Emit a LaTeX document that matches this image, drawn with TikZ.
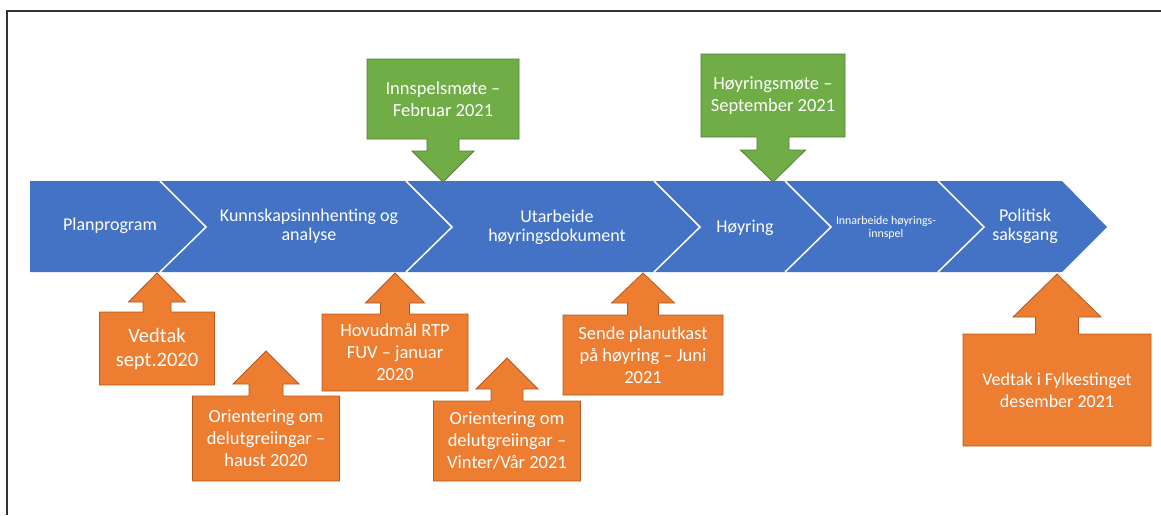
\documentclass[tikz,border=0pt]{standalone}
\usepackage{fontspec}
\setmainfont{Carlito}
\definecolor{bandblue}{HTML}{4472C4}
\definecolor{noteorange}{HTML}{ED7D31}
\definecolor{noteorangeline}{HTML}{B05A20}
\definecolor{notegreen}{HTML}{70AD47}
\definecolor{notegreenline}{HTML}{507E32}
\tikzset{
	bandtext/.style={text=white, align=center, inner sep=0pt, font=\fontsize{18}{19}\selectfont},
	notetext/.style={text=white, align=center, inner sep=0pt, font=\fontsize{18.5}{22}\selectfont},
	upnote/.style={fill=noteorange, draw=noteorangeline, line width=0.8pt},
	downnote/.style={fill=notegreen, draw=notegreenline, line width=0.8pt}
}
% style, centre x, tip y, head base y, head half, shaft half, neck y, box half, far y
\newcommand{\callout}[9]{%
	\filldraw[#1] (#2,#3) -- ({#2+#5},#4) -- ({#2+#6},#4) -- ({#2+#6},#7) -- ({#2+#8},#7) -- ({#2+#8},#9) -- ({#2-#8},#9) -- ({#2-#8},#7) -- ({#2-#6},#7) -- ({#2-#6},#4) -- ({#2-#5},#4) -- cycle;}
\begin{document}
\begin{tikzpicture}[x=1pt, y=-1pt]
		%\draw [help lines] (0,0) grid (1161,515);
		\useasboundingbox (0,0) rectangle (1161,515);
		\draw[line width=2.5pt, black!80] (7,515) -- (7,11) -- (1161,11);

		\fill[bandblue] (30,181) -- (1062,181) -- (1107,227) -- (1062,272) -- (30,272) -- cycle;
		\foreach \x in {160,406,654,785,938}
			\draw[white, line width=1.5pt] (\x,181) -- ({\x+46},227) -- (\x,272);

		\node[bandtext] (planprogram) at (110,226) {Planprogram};
		\node[bandtext] (kunnskap) at (309,226) {Kunnskapsinnhenting og\\analyse};
		\node[bandtext] (utarbeide) at (557,227) {Utarbeide\\høyringsdokument};
		\node[bandtext] (hoyring) at (745,228) {Høyring};
		\node[bandtext, font=\fontsize{11.9}{12.5}\selectfont] (innarbeide) at (886,228) {Innarbeide høyrings-\\innspel};
		\node[bandtext] (politisk) at (1025,226) {Politisk\\saksgang};

		\callout{downnote}{443}{182}{151}{31}{16}{139}{76}{59}
		\node[notetext] (innspel) at (443,99) {Innspelsmøte –\\Februar 2021};
		\callout{downnote}{773}{182}{150}{32.5}{16}{137}{72}{54}
		\node[notetext] (hoyringsmote) at (773,96) {Høyringsmøte –\\September 2021};

		\callout{upnote}{157}{273}{302}{28.5}{14}{312}{57.5}{385}
		\node[notetext, font=\fontsize{20.5}{24}\selectfont] (vedtak) at (157,349) {Vedtak\\sept.2020};
		\callout{upnote}{266}{351}{384}{33}{17}{396}{73.5}{481}
		\node[notetext] (orientA) at (266,438) {Orientering om\\delutgreiingar –\\haust 2020};
		\callout{upnote}{395}{273}{303}{29.5}{14.5}{314}{73}{391}
		\node[notetext] (hovudmaal) at (395,352) {Hovudmål RTP\\FUV – januar\\2020};
		\callout{upnote}{507}{358}{389}{31}{16}{401}{73.5}{481}
		\node[notetext] (orientB) at (507,441) {Orientering om\\delutgreiingar –\\Vinter/Vår 2021};
		\callout{upnote}{643}{273}{303}{31.5}{15.5}{315}{80}{395}
		\node[notetext] (sende) at (643,355) {Sende planutkast\\på høyring – Juni\\2021};
		\callout{upnote}{1057}{274}{317}{44}{21.5}{334}{94}{446}
		\node[notetext, font=\fontsize{18}{22}\selectfont] (fylkesting) at (1057,390) {Vedtak i Fylkestinget\\desember 2021};
	\end{tikzpicture}
\end{document}
